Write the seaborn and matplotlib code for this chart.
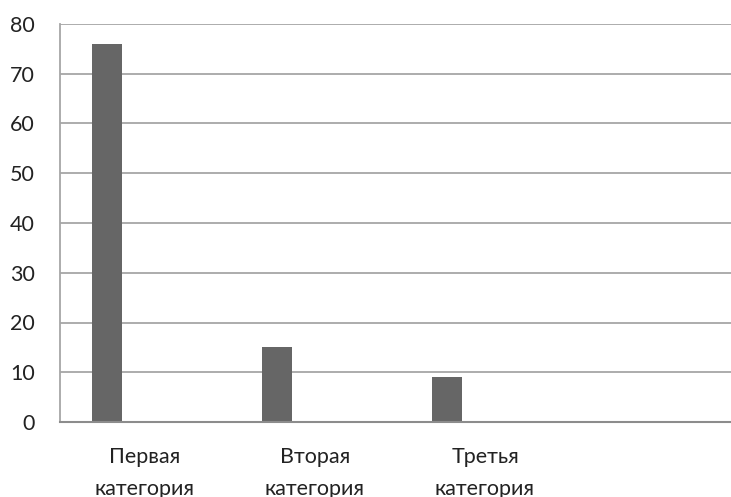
import matplotlib
matplotlib.use('Agg')
import matplotlib.pyplot as plt
import pandas as pd
import seaborn as sns

# ----------------- data -----------------
categories = ['Первая\nкатегория', 'Вторая\nкатегория', 'Третья\nкатегория', '']
series_names = ['Ряд 1', 'Ряд 2', 'Ряд 3']
series_1 = [76, 15, 9, 0]
series_2 = [0, 0, 0, 0]
series_3 = [0, 0, 0, 0]
y_ticks = [0, 10, 20, 30, 40, 50, 60, 70, 80]

# build long table for seaborn
rows = []
for name, vals in zip(series_names, [series_1, series_2, series_3]):
    for cat, v in zip(categories, vals):
        rows.append({'cat': cat, 'series': name, 'value': v})
df = pd.DataFrame(rows)

# ----------------- plot -----------------
sns.set_style('white')
plt.rcParams['font.family'] = ['Lato', 'DejaVu Sans']

fig = plt.figure(figsize=(7.31, 4.97), dpi=100)
ax = fig.add_axes([60 / 731, 75 / 497, 680 / 731, 398 / 497])

sns.barplot(data=df, x='cat', y='value', hue='series', order=categories,
            hue_order=series_names, palette=['#666666'] * 3, width=0.67,
            gap=0.21, legend=False, ax=ax, errorbar=None, linewidth=0)

ax.set_xlim(-0.5, len(categories) - 0.5)
ax.set_ylim(0, 80)
ax.set_yticks(y_ticks)
ax.grid(axis='y', color='#a6a6a6', linewidth=1.3)
ax.set_axisbelow(True)
for s in ['top', 'right']:
    ax.spines[s].set_visible(False)
ax.spines['left'].set_color('#a6a6a6')
ax.spines['left'].set_linewidth(1.3)
ax.spines['bottom'].set_color('#8c8c8c')
ax.spines['bottom'].set_linewidth(1.5)
ax.tick_params(axis='y', length=0, pad=18, labelsize=15.5, labelcolor='#222222')
ax.tick_params(axis='x', length=0, pad=18, labelsize=15.5, labelcolor='#222222')
for lab in ax.get_xticklabels():
    lab.set_linespacing(1.75)
ax.set_xlabel('')
ax.set_ylabel('')

plt.savefig('out.png', dpi=100)
plt.close()
